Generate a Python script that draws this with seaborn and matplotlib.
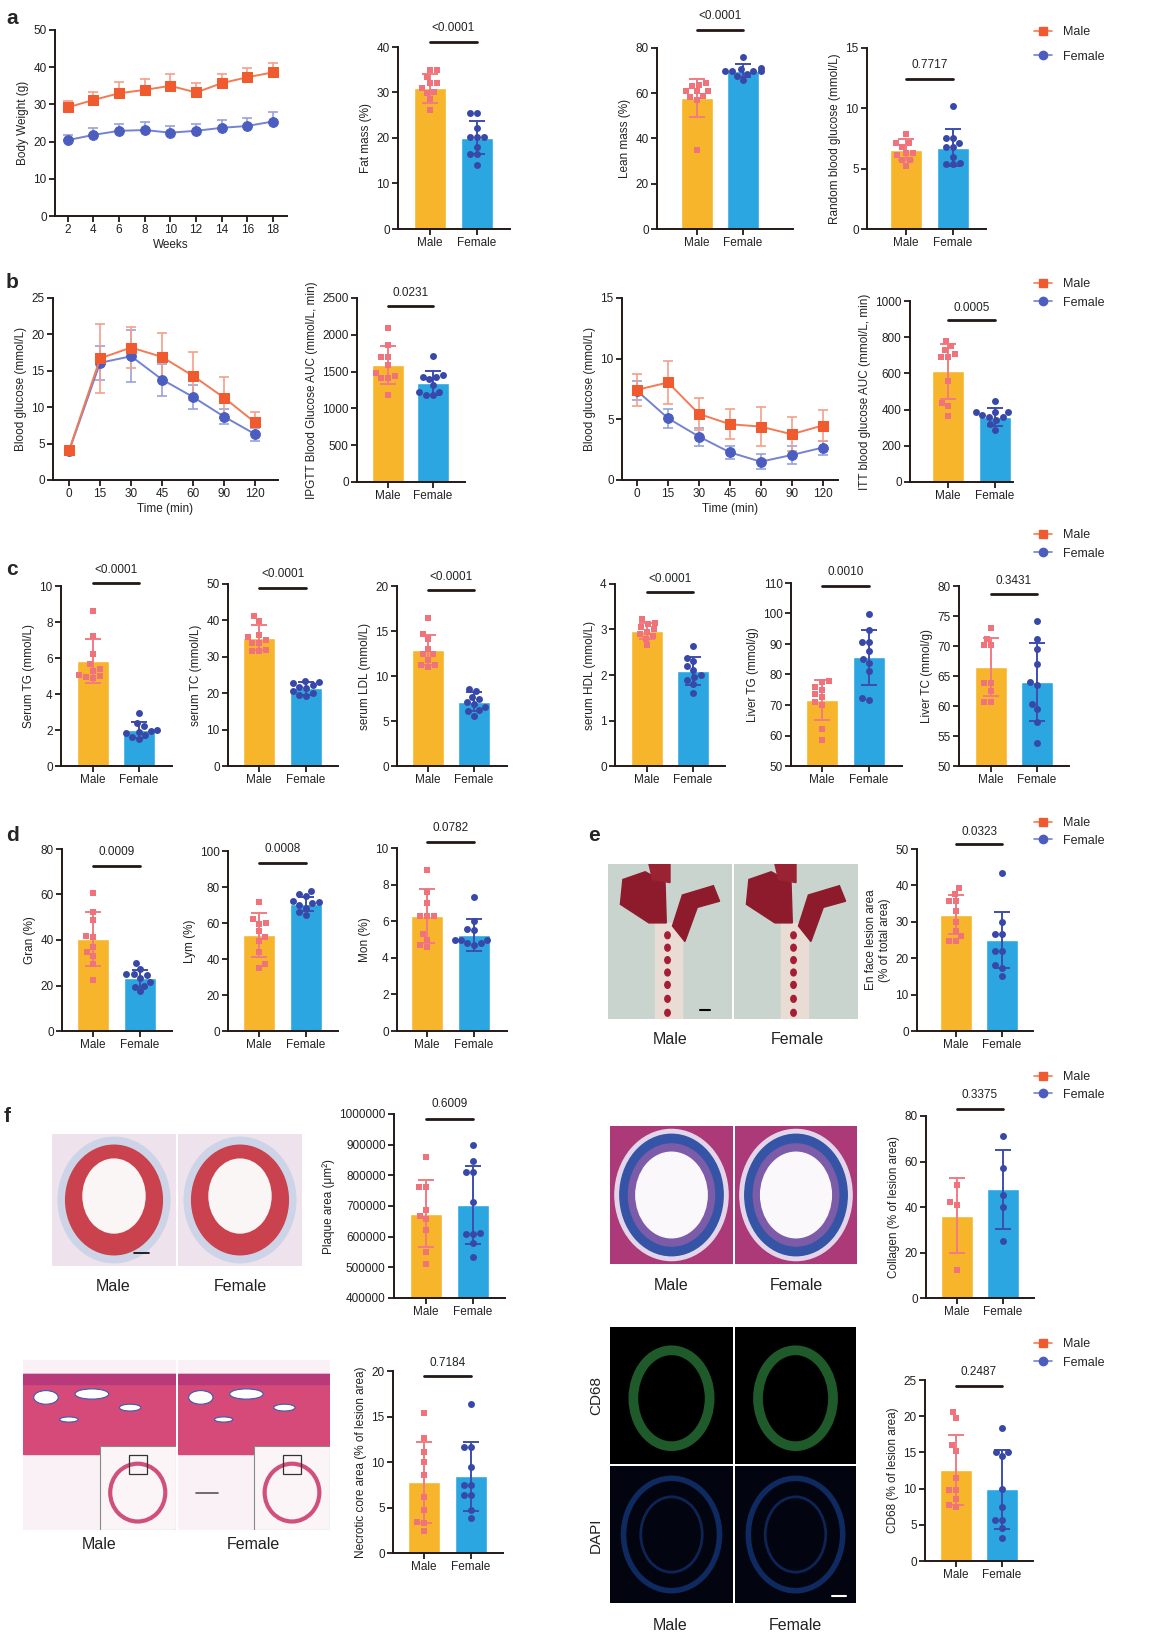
import numpy as np
import pandas as pd
import matplotlib
matplotlib.use("Agg")
import matplotlib.pyplot as plt
import seaborn as sns
from matplotlib.lines import Line2D
from matplotlib.patches import Ellipse, Rectangle, Polygon, Circle

# ---------------- data ----------------
groups = ["Male", "Female"]

weeks = [2, 4, 6, 8, 10, 12, 14, 16, 18]
bw_male = [29.2, 31.2, 33.0, 33.9, 35.0, 33.2, 35.7, 37.3, 38.6]
bw_male_sd = [1.7, 2.2, 2.9, 2.9, 3.2, 2.5, 2.4, 2.4, 2.6]
bw_female = [20.4, 21.8, 22.9, 23.1, 22.4, 22.9, 23.7, 24.2, 25.4]
bw_female_sd = [1.5, 1.8, 1.9, 2.3, 1.8, 1.8, 2.1, 2.2, 2.6]

time_labels = ["0", "15", "30", "45", "60", "90", "120"]
gtt_male = [4.1, 16.7, 18.2, 16.9, 14.3, 11.3, 7.9]
gtt_male_sd = [0.3, 4.7, 2.85, 3.3, 3.3, 2.8, 1.5]
gtt_female = [4.0, 16.1, 17.0, 13.8, 11.4, 8.7, 6.3]
gtt_female_sd = [0.3, 2.35, 3.6, 2.2, 1.6, 1.0, 0.9]

itt_male = [7.43, 8.04, 5.45, 4.6, 4.4, 3.77, 4.49]
itt_male_sd = [1.33, 1.8, 1.3, 1.26, 1.6, 1.4, 1.24]
itt_female = [7.35, 5.09, 3.58, 2.28, 1.51, 2.06, 2.67]
itt_female_sd = [0.77, 0.77, 0.74, 0.56, 0.64, 0.78, 0.58]

fat_male = [34.9, 34.9, 33.4, 32.0, 32.0, 30.9, 30.2, 29.9, 28.5, 26.1]
fat_female = [25.6, 25.6, 22.1, 20.3, 20.3, 20.3, 18.1, 16.5, 16.5, 14.1]
fat_mean = [30.9, 20.1]
fat_sd = [3.1, 3.65]

lean_male = [64.5, 63.8, 63.0, 60.8, 60.8, 60.8, 58.6, 58.3, 57.0, 34.8]
lean_female = [76.0, 71.3, 70.5, 70.0, 70.0, 70.0, 69.9, 68.5, 67.6, 65.9]
lean_mean = [57.9, 70.0]
lean_sd = [8.3, 2.8]

rbg_male = [7.9, 7.1, 7.1, 6.8, 6.3, 6.3, 6.1, 5.7, 5.7, 5.2]
rbg_female = [10.2, 7.5, 7.5, 7.1, 6.8, 6.8, 6.0, 5.5, 5.4, 5.4]
rbg_mean = [6.55, 6.75]
rbg_sd = [0.87, 1.5]

ipgtt_male = [2091, 1864, 1705, 1705, 1591, 1477, 1445, 1409, 1409, 1182]
ipgtt_female = [1714, 1455, 1432, 1432, 1400, 1318, 1227, 1227, 1182, 1182]
ipgtt_mean = [1591, 1341]
ipgtt_sd = [262, 165]

ittauc_male = [777, 750, 727, 705, 691, 691, 558, 438, 420, 365]
ittauc_female = [447, 385, 385, 385, 370, 360, 360, 345, 320, 290]
ittauc_mean = [611, 359]
ittauc_sd = [154, 50]

tg_male = [8.6, 7.2, 6.25, 5.65, 5.4, 5.3, 5.05, 5.0, 4.95, 4.9]
tg_female = [2.95, 2.4, 2.2, 2.0, 1.95, 1.9, 1.85, 1.7, 1.6, 1.5]
tg_mean = [5.84, 2.0]
tg_sd = [1.22, 0.46]

tc_male = [41.2, 39.7, 36.0, 35.5, 34.5, 33.9, 33.9, 31.9, 31.7, 31.7]
tc_female = [23.4, 23.0, 22.8, 22.2, 21.8, 21.5, 20.7, 20.0, 19.5, 19.3]
tc_mean = [35.3, 21.3]
tc_sd = [3.35, 1.8]

ldl_male = [16.45, 14.7, 14.1, 13.05, 12.4, 12.4, 11.8, 11.2, 11.2, 11.0]
ldl_female = [8.6, 8.3, 7.7, 7.5, 7.1, 6.9, 6.6, 6.2, 6.1, 5.6]
ldl_mean = [12.87, 7.13]
ldl_sd = [1.7, 1.05]

hdl_male = [3.22, 3.15, 3.12, 3.05, 3.0, 2.95, 2.9, 2.85, 2.8, 2.65]
hdl_female = [2.63, 2.38, 2.3, 2.2, 2.1, 2.0, 1.95, 1.9, 1.8, 1.6]
hdl_mean = [2.97, 2.09]
hdl_sd = [0.18, 0.3]

ltg_male = [78.0, 77.5, 76.0, 75.0, 73.5, 72.5, 71.0, 70.0, 62.0, 58.5]
ltg_female = [99.9, 94.7, 90.8, 90.7, 87.6, 85.2, 83.8, 81.2, 72.2, 71.5]
ltg_mean = [71.6, 85.6]
ltg_sd = [6.55, 9.1]

ltc_male = [73.0, 71.2, 70.2, 70.2, 63.9, 63.9, 62.5, 60.7, 60.6]
ltc_female = [74.1, 71.2, 69.5, 67.0, 64.0, 63.5, 60.3, 59.5, 57.3, 53.8]
ltc_mean = [66.5, 64.0]
ltc_sd = [4.8, 6.5]

gran_male = [60.6, 52.1, 48.7, 41.9, 41.2, 36.8, 34.6, 32.8, 29.6, 22.5]
gran_female = [29.9, 27.3, 25.0, 25.0, 24.5, 23.5, 21.5, 20.0, 19.5, 17.4]
gran_mean = [40.4, 23.1]
gran_sd = [11.75, 3.85]

lym_male = [71.5, 62.0, 60.0, 59.5, 55.5, 52.0, 50.0, 44.0, 37.0, 35.0]
lym_female = [78.0, 76.0, 75.0, 72.0, 71.5, 71.0, 70.0, 68.5, 66.0, 64.5]
lym_mean = [53.1, 70.7]
lym_sd = [12.25, 3.9]

mon_male = [8.8, 7.6, 7.0, 6.3, 6.3, 6.3, 5.3, 5.0, 4.7, 4.6]
mon_female = [7.3, 6.0, 5.6, 5.5, 5.0, 5.0, 5.0, 4.8, 4.8, 4.7]
mon_mean = [6.28, 5.26]
mon_sd = [1.47, 0.88]

enface_male = [39.4, 37.7, 35.8, 35.8, 33.0, 29.9, 27.5, 26.0, 24.8, 24.7]
enface_female = [43.5, 29.9, 26.6, 26.6, 22.0, 22.0, 18.0, 17.2, 15.2]
enface_mean = [32.0, 25.0]
enface_sd = [5.4, 7.8]

plaque_male = [860000, 763000, 763000, 687000, 667000, 656000, 621000, 551000, 510000]
plaque_female = [898000, 848000, 810000, 810000, 714000, 612000, 610000, 610000, 580000, 533000]
plaque_mean = [675000, 703000]
plaque_sd = [110000, 127000]

collagen_male = [49.6, 42.1, 40.9, 12.3]
collagen_female = [71.2, 57.3, 45.2, 40.1, 25.0]
collagen_mean = [36.1, 47.8]
collagen_sd = [16.5, 17.4]

necrotic_male = [15.4, 12.6, 11.1, 10.0, 8.6, 6.2, 4.7, 3.4, 3.3, 2.4]
necrotic_female = [16.4, 11.6, 11.6, 9.4, 7.5, 7.5, 6.4, 6.4, 4.7, 3.9]
necrotic_mean = [7.75, 8.41]
necrotic_sd = [4.45, 3.8]

cd68_male = [20.6, 19.7, 16.0, 15.2, 11.5, 9.8, 9.8, 8.5, 7.8, 7.5]
cd68_female = [18.4, 15.1, 15.1, 14.5, 10.0, 7.4, 5.6, 5.6, 4.5, 3.2]
cd68_mean = [12.55, 9.92]
cd68_sd = [4.8, 5.45]

# ---------------- style ----------------
sns.set_theme(style="ticks")
plt.rcParams["font.family"] = ["Liberation Sans", "DejaVu Sans"]

BAR_M, BAR_F = "#F7B52C", "#2CA6E0"
PT_M, PT_F = "#F0737C", "#3848A8"
ERR_M, ERR_F = "#F27B82", "#3E4DAE"
MK_M, MK_F = "#EF5A2E", "#4C5DC0"
LN_M, LN_F = "#F37A55", "#7382D2"
EL_M, EL_F = "#F5A08A", "#98A2DC"
INK = "#231815"
FS = 8.5

W, H = 1156, 1644
fig = plt.figure(figsize=(W / 100, H / 100), dpi=100)
fig.patch.set_facecolor("white")


def add_ax(x0, x1, y0, y1):
    return fig.add_axes([x0 / W, 1 - y1 / H, (x1 - x0) / W, (y1 - y0) / H])


def style(ax):
    sns.despine(ax=ax)
    for s in ["left", "bottom"]:
        ax.spines[s].set_linewidth(1.4)
        ax.spines[s].set_color(INK)
    ax.tick_params(axis="both", length=4, width=1.3, labelsize=FS, pad=2,
                   color=INK, labelcolor="#222222")
    ax.set_facecolor("none")


def bar_panel(spine, mx, fx, right, top, bot, male, female, means, sds,
              ylim, yticks, ylabel, pval, sig_px, txt_px, ytl=None):
    ax = add_ax(spine, right, top, bot)
    d = fx - mx
    xlim = ((spine - mx) / d, 1 + (right - fx) / d)
    df = pd.DataFrame({"Sex": groups, "Mean": means})
    sns.barplot(data=df, x="Sex", y="Mean", hue="Sex", order=groups,
                hue_order=groups, palette=[BAR_M, BAR_F], saturation=1,
                width=0.7, errorbar=None, legend=False, ax=ax, zorder=1)
    for i, (m, s, c) in enumerate(zip(means, sds, [ERR_M, ERR_F])):
        ax.errorbar(i, m, yerr=s, fmt="none", ecolor=c, elinewidth=1.4,
                    capsize=6, capthick=1.4, zorder=3)
    sns.swarmplot(x=["Male"] * len(male), y=male, order=groups, marker="s",
                  color=PT_M, size=5, linewidth=0, ax=ax, zorder=4)
    sns.swarmplot(x=["Female"] * len(female), y=female, order=groups,
                  marker="o", color=PT_F, size=5, linewidth=0, ax=ax, zorder=4)
    ax.set_xlim(*xlim)
    ax.set_ylim(*ylim)
    ax.set_yticks(yticks)
    if ytl is not None:
        ax.set_yticklabels(ytl)
    ax.set_xlabel("")
    ax.set_ylabel(ylabel, fontsize=FS, labelpad=3, color="#222222")
    style(ax)
    tr = ax.get_xaxis_transform()
    fs = (bot - sig_px) / (bot - top)
    ft = (bot - txt_px) / (bot - top)
    ax.plot([0, 1], [fs, fs], color=INK, lw=2.0, transform=tr, clip_on=False)
    ax.text(0.5, ft, pval, ha="center", va="center", fontsize=FS,
            transform=tr, color="#222222")
    return ax


def line_panel(spine, right, top, bot, x, m_vals, m_sd, f_vals, f_sd,
               xlim, ylim, yticks, ylabel, xlabel, xticklabels=None,
               upper_only=False, xlabel_px=None):
    ax = add_ax(spine, right, top, bot)
    for vals, sd, lc, mc, ec, mk in [(f_vals, f_sd, LN_F, MK_F, EL_F, "o"),
                                     (m_vals, m_sd, LN_M, MK_M, EL_M, "s")]:
        sd = np.asarray(sd)
        yerr = [np.zeros_like(sd), sd] if upper_only else sd
        ax.errorbar(x, vals, yerr=yerr, fmt="none", ecolor=ec, elinewidth=1.2,
                    capsize=3.5, capthick=1.2, zorder=2)
        sns.lineplot(x=x, y=vals, color=lc, lw=1.4, marker=mk, markersize=7,
                     markerfacecolor=mc, markeredgecolor=mc, ax=ax, zorder=3)
    ax.set_xlim(*xlim)
    ax.set_ylim(*ylim)
    ax.set_yticks(yticks)
    ax.set_xticks(x)
    if xticklabels is not None:
        ax.set_xticklabels(xticklabels)
    ax.set_ylabel(ylabel, fontsize=FS, labelpad=3, color="#222222")
    ax.set_xlabel(xlabel, fontsize=FS, labelpad=2, color="#222222")
    style(ax)
    return ax


def legend_at(y_m, y_f):
    handles = [Line2D([0], [0], color=LN_M, marker="s", mfc=MK_M, mec=MK_M,
                      ms=6, lw=1.2),
               Line2D([0], [0], color=LN_F, marker="o", mfc=MK_F, mec=MK_F,
                      ms=6, lw=1.2)]
    cy = (y_m + y_f) / 2
    fpx = 9 * 100 / 72
    ls = max((y_f - y_m - fpx) / fpx, 0.2)
    fig.legend(handles, groups, loc="center left",
               bbox_to_anchor=(1034 / W, 1 - cy / H), frameon=False,
               fontsize=9, handlelength=1.45, handletextpad=0.9,
               labelspacing=ls, borderpad=0, borderaxespad=0)


def letter(x, y, s):
    fig.text(x / W, 1 - y / H, s, fontsize=15, fontweight="bold",
             ha="left", va="center")


def caption(x, y, s, fs=11.5, rot=0):
    fig.text(x / W, 1 - y / H, s, fontsize=fs, ha="center", va="center",
             rotation=rot, color="#222222")


def img_ax(x0, x1, y0, y1):
    ax = add_ax(x0, x1, y0, y1)
    ax.set_xlim(0, 1)
    ax.set_ylim(0, 1)
    ax.set_xticks([])
    ax.set_yticks([])
    for s in ax.spines.values():
        s.set_visible(False)
    return ax


def draw_enface(ax, bar=False):
    ax.add_patch(Rectangle((0, 0), 1, 1, color="#C9D4CF"))
    ax.add_patch(Rectangle((0.38, 0), 0.22, 0.62, color="#E9DCD4"))
    ax.add_patch(Polygon([[0.33, 0.62], [0.1, 0.74], [0.12, 0.9], [0.3, 0.95],
                          [0.46, 0.88], [0.47, 0.62]], color="#8E1B2C"))
    ax.add_patch(Polygon([[0.52, 0.6], [0.6, 0.8], [0.85, 0.86], [0.9, 0.76],
                          [0.72, 0.72], [0.62, 0.5]], color="#8E1B2C"))
    ax.add_patch(Polygon([[0.36, 0.9], [0.33, 1.0], [0.5, 1.0], [0.5, 0.88]],
                         color="#9A2333"))
    for yy in [0.04, 0.13, 0.22, 0.3, 0.38, 0.46, 0.54]:
        ax.add_patch(Circle((0.48, yy), 0.022, color="#A51E36"))
    if bar:
        ax.plot([0.74, 0.82], [0.06, 0.06], color="black", lw=1.5)


def draw_oil(ax, bar=False):
    ax.add_patch(Rectangle((0, 0), 1, 1, color="#EEE2EC"))
    ax.add_patch(Ellipse((0.5, 0.5), 0.9, 0.95, color="#CDD4E7"))
    ax.add_patch(Ellipse((0.5, 0.5), 0.78, 0.83, color="#C9424D"))
    ax.add_patch(Ellipse((0.5, 0.53), 0.5, 0.56, color="#FBF6F6"))
    if bar:
        ax.plot([0.66, 0.78], [0.1, 0.1], color="black", lw=1.2)


def draw_masson(ax):
    ax.add_patch(Rectangle((0, 0), 1, 1, color="#AC3A78"))
    ax.add_patch(Ellipse((0.5, 0.5), 0.92, 0.95, color="#E3D6EA"))
    ax.add_patch(Ellipse((0.5, 0.5), 0.84, 0.88, color="#3554A5"))
    ax.add_patch(Ellipse((0.5, 0.5), 0.7, 0.74, color="#7C5CA8"))
    ax.add_patch(Ellipse((0.5, 0.5), 0.58, 0.62, color="#FAF8FB"))


def draw_he(ax, bar=False):
    ax.add_patch(Rectangle((0, 0), 1, 1, color="#F9F1F6"))
    ax.add_patch(Rectangle((0, 0.45), 1, 0.47, color="#D54A78"))
    ax.add_patch(Rectangle((0, 0.86), 1, 0.06, color="#B83A7A"))
    for cx, cy, w, h in [(0.15, 0.78, 0.16, 0.08), (0.45, 0.8, 0.22, 0.06),
                         (0.7, 0.72, 0.14, 0.04), (0.3, 0.65, 0.12, 0.03)]:
        ax.add_patch(Ellipse((cx, cy), w, h, fc="white", ec="#3A5BB0", lw=0.8))
    ax.add_patch(Rectangle((0.5, 0.0), 0.5, 0.494, fc="#FBF5F8", ec="#888888",
                           lw=0.8))
    ax.add_patch(Ellipse((0.75, 0.22), 0.36, 0.34, fc="none", ec="#D0507A",
                         lw=3))
    ax.add_patch(Rectangle((0.69, 0.33), 0.12, 0.11, fc="none", ec="#333333",
                           lw=0.9))
    if bar:
        ax.plot([0.12, 0.26], [0.22, 0.22], color="#555555", lw=1.2)


def draw_fluor(ax, kind, bar=False):
    if kind == "cd68":
        ax.add_patch(Rectangle((0, 0), 1, 1, color="#000000"))
        ax.add_patch(Ellipse((0.5, 0.48), 0.62, 0.7, fc="none", ec="#1E5A2A",
                             lw=7))
    else:
        ax.add_patch(Rectangle((0, 0), 1, 1, color="#02050F"))
        ax.add_patch(Ellipse((0.5, 0.5), 0.78, 0.82, fc="none", ec="#0F2A60",
                             lw=4))
        ax.add_patch(Ellipse((0.5, 0.5), 0.5, 0.55, fc="none", ec="#0D2455",
                             lw=2))
    if bar:
        ax.plot([0.8, 0.92], [0.05, 0.05], color="white", lw=1.5)


# ---------------- row a ----------------
letter(6, 18, "a")
line_panel(55, 287, 30, 216, weeks, bw_male, bw_male_sd, bw_female, bw_female_sd,
           (1.0, 19.1), (0, 50), [0, 10, 20, 30, 40, 50], "Body Weight (g)",
           "Weeks", upper_only=True)
bar_panel(398, 430, 477, 510, 47, 229, fat_male, fat_female, fat_mean, fat_sd,
          (0, 40), [0, 10, 20, 30, 40], "Fat mass (%)", "<0.0001", 42, 28)
bar_panel(657, 697, 743, 793, 48, 229, lean_male, lean_female, lean_mean, lean_sd,
          (0, 80), [0, 20, 40, 60, 80], "Lean mass (%)", "<0.0001", 30, 16)
bar_panel(867, 906, 953, 986, 48, 229, rbg_male, rbg_female, rbg_mean, rbg_sd,
          (0, 15), [0, 5, 10, 15], "Random blood glucose (mmol/L)", "0.7717", 79, 65)
legend_at(32, 57)

# ---------------- row b ----------------
letter(6, 283, "b")
tx = np.arange(len(time_labels))
line_panel(53, 278, 298, 480, tx, gtt_male, gtt_male_sd, gtt_female, gtt_female_sd,
           (-0.52, 6.74), (0, 25), [0, 5, 10, 15, 20, 25], "Blood glucose (mmol/L)",
           "Time (min)", xticklabels=time_labels)
bar_panel(357, 388, 433, 465, 298, 482, ipgtt_male, ipgtt_female, ipgtt_mean,
          ipgtt_sd, (0, 2500), [0, 500, 1000, 1500, 2000, 2500],
          "IPGTT Blood Glucose AUC (mmol/L, min)", "0.0231", 306, 293)
line_panel(622, 838, 298, 480, tx, itt_male, itt_male_sd, itt_female, itt_female_sd,
           (-0.49, 6.5), (0, 15), [0, 5, 10, 15], "Blood glucose (mmol/L)",
           "Time (min)", xticklabels=time_labels)
bar_panel(910, 948, 995, 1013, 301, 482, ittauc_male, ittauc_female, ittauc_mean,
          ittauc_sd, (0, 1000), [0, 200, 400, 600, 800, 1000],
          "ITT blood glucose AUC (mmol/L, min)", "0.0005", 320, 308)
legend_at(284, 303)

# ---------------- row c ----------------
letter(6, 569, "c")
bar_panel(61, 93, 139, 172, 586, 766, tg_male, tg_female, tg_mean, tg_sd,
          (0, 10), [0, 2, 4, 6, 8, 10], "Serum TG (mmol/L)", "<0.0001", 583, 570)
bar_panel(228, 259, 306, 338, 584, 766, tc_male, tc_female, tc_mean, tc_sd,
          (0, 50), [0, 10, 20, 30, 40, 50], "serum TC (mmol/L)", "<0.0001", 588, 574)
bar_panel(397, 428, 474, 507, 586, 766, ldl_male, ldl_female, ldl_mean, ldl_sd,
          (0, 20), [0, 5, 10, 15, 20], "serum LDL (mmol/L)", "<0.0001", 590, 577)
bar_panel(615, 647, 693, 725, 584, 766, hdl_male, hdl_female, hdl_mean, hdl_sd,
          (0, 4), [0, 1, 2, 3, 4], "serum HDL (mmol/L)", "<0.0001", 592, 579)
bar_panel(791, 822, 869, 902, 583, 766, ltg_male, ltg_female, ltg_mean, ltg_sd,
          (50, 110), [50, 60, 70, 80, 90, 100, 110], "Liver TG (mmol/g)", "0.0010", 586, 572)
bar_panel(959, 991, 1037, 1069, 586, 766, ltc_male, ltc_female, ltc_mean, ltc_sd,
          (50, 80), [50, 55, 60, 65, 70, 75, 80], "Liver TC (mmol/g)", "0.3431", 594, 581)
legend_at(535, 554)

# ---------------- row d ----------------
letter(6, 835, "d")
bar_panel(62, 93, 140, 172, 849, 1031, gran_male, gran_female, gran_mean, gran_sd,
          (0, 80), [0, 20, 40, 60, 80], "Gran (%)", "0.0009", 866, 852)
bar_panel(228, 259, 306, 338, 851, 1031, lym_male, lym_female, lym_mean, lym_sd,
          (0, 100), [0, 20, 40, 60, 80, 100], "Lym (%)", "0.0008", 863, 849)
bar_panel(397, 427, 474, 507, 848, 1031, mon_male, mon_female, mon_mean, mon_sd,
          (0, 10), [0, 2, 4, 6, 8, 10], "Mon (%)", "0.0782", 842, 828)

# ---------------- row e ----------------
letter(588, 835, "e")
draw_enface(img_ax(608, 732, 864, 1019), bar=True)
draw_enface(img_ax(734, 858, 864, 1019))
caption(670, 1040, "Male")
caption(797, 1040, "Female")
bar_panel(917, 956, 1002, 1033, 849, 1031, enface_male, enface_female, enface_mean,
          enface_sd, (0, 50), [0, 10, 20, 30, 40, 50],
          "En face lesion area\n(% of total area)", "0.0323", 844, 832)
legend_at(823, 841)

# ---------------- row f ----------------
letter(4, 1117, "f")
draw_oil(img_ax(52, 176, 1134, 1266), bar=True)
draw_oil(img_ax(178, 302, 1134, 1266))
caption(113, 1286, "Male")
caption(240, 1286, "Female")
bar_panel(394, 426, 473, 505, 1114, 1298, plaque_male, plaque_female, plaque_mean,
          plaque_sd, (400000, 1000000),
          [400000, 500000, 600000, 700000, 800000, 900000, 1000000],
          "Plaque area (μm²)", "0.6009", 1119, 1104,
          ytl=["400000", "500000", "600000", "700000", "800000", "900000", "1000000"])

draw_masson(img_ax(610, 733, 1126, 1264))
draw_masson(img_ax(735, 857, 1126, 1264))
caption(671, 1285, "Male")
caption(796, 1285, "Female")
bar_panel(926, 957, 1003, 1034, 1116, 1298, collagen_male, collagen_female,
          collagen_mean, collagen_sd, (0, 80), [0, 20, 40, 60, 80],
          "Collagen (% of lesion area)", "0.3375", 1109, 1095)
legend_at(1077, 1095)

draw_he(img_ax(23, 176, 1360, 1530))
draw_he(img_ax(178, 330, 1360, 1530), bar=True)
caption(99, 1544, "Male")
caption(253, 1544, "Female")
bar_panel(393, 424, 471, 503, 1371, 1553, necrotic_male, necrotic_female,
          necrotic_mean, necrotic_sd, (0, 20), [0, 5, 10, 15, 20],
          "Necrotic core area (% of lesion area)", "0.7184", 1376, 1363)

draw_fluor(img_ax(610, 733, 1327, 1464), "cd68")
draw_fluor(img_ax(735, 856, 1327, 1464), "cd68")
draw_fluor(img_ax(610, 733, 1466, 1603), "dapi")
draw_fluor(img_ax(735, 856, 1466, 1603), "dapi", bar=True)
caption(596, 1395, "CD68", fs=11, rot=90)
caption(596, 1535, "DAPI", fs=11, rot=90)
caption(670, 1625, "Male")
caption(795, 1625, "Female")
bar_panel(925, 956, 1002, 1033, 1380, 1561, cd68_male, cd68_female, cd68_mean,
          cd68_sd, (0, 25), [0, 5, 10, 15, 20, 25], "CD68 (% of lesion area)",
          "0.2487", 1386, 1372)
legend_at(1344, 1363)

fig.savefig("out.png", dpi=100, facecolor="white")
